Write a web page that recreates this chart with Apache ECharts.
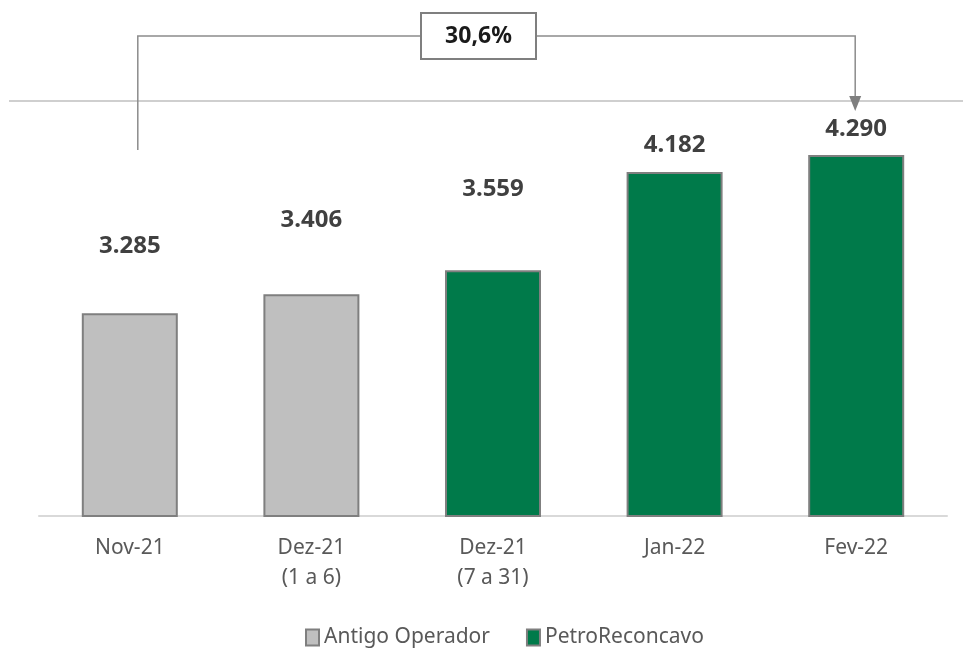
<!DOCTYPE html>
<html>
<head>
<meta charset="utf-8">
<script src="https://cdn.jsdelivr.net/npm/echarts@6/dist/echarts.min.js"></script>
<style>
  html, body { margin: 0; padding: 0; background: #fff; }
  #main { width: 963px; height: 651px; }
</style>
</head>
<body>
<div id="main"></div>
<script>
// categorias e valores
const categories = ["Nov-21", "Dez-21\n(1 a 6)", "Dez-21\n(7 a 31)", "Jan-22", "Fev-22"];
const antigoOperador = [3285, 3406, "-", "-", "-"];
const petroReconcavo = ["-", "-", 3559, 4182, 4290];
// distancia dos rótulos acima das barras (estilo)
const labelGap = [55, 62, 69, 15, 14];

const FONT = "Noto Sans";
const fmt = (v) => String(v).replace(/\B(?=(\d{3})+(?!\d))/g, ".");

const chart = echarts.init(document.getElementById("main"));

function toData(arr) {
  return arr.map((v, i) => {
    if (v === "-") return "-";
    return { value: v, label: { distance: labelGap[i] } };
  });
}

const labelStyle = {
  show: true,
  position: "top",
  fontFamily: FONT,
  fontSize: 24,
  fontWeight: "bold",
  color: "#404040",
  formatter: (p) => fmt(p.value),
};

const option = {
  backgroundColor: "#fff",
  animation: false,
  grid: { left: 39, right: 16, top: 106, bottom: 135 },
  legend: {
    top: 622,
    left: 300,
    itemWidth: 13,
    itemHeight: 16,
    itemGap: 36,
    icon: "rect",
    textStyle: { fontFamily: FONT, fontSize: 21, color: "#595959" },
    data: ["Antigo Operador", "PetroReconcavo"],
  },
  xAxis: {
    type: "category",
    data: categories,
    axisTick: { show: false },
    axisLine: { lineStyle: { color: "#d9d9d9", width: 2 } },
    axisLabel: {
      interval: 0,
      margin: 17,
      fontFamily: FONT,
      fontSize: 21,
      lineHeight: 30,
      color: "#595959",
    },
  },
  yAxis: {
    type: "value",
    min: 2000,
    max: 4600,
    show: false,
    splitLine: { show: false },
  },
  series: [
    {
      name: "Antigo Operador",
      type: "bar",
      barWidth: 96,
      barGap: "-100%",
      itemStyle: { color: "#bfbfbf", borderColor: "#7f7f7f", borderWidth: 2 },
      label: labelStyle,
      data: toData(antigoOperador),
    },
    {
      name: "PetroReconcavo",
      type: "bar",
      barWidth: 96,
      barGap: "-100%",
      itemStyle: { color: "#007a4a", borderColor: "#7f7f7f", borderWidth: 2 },
      label: labelStyle,
      data: toData(petroReconcavo),
    },
  ],
};

chart.setOption(option);

// anotação de crescimento (primeira -> última barra)
const first = antigoOperador[0];
const last = petroReconcavo[petroReconcavo.length - 1];
const growth = ((last / first - 1) * 100).toFixed(1).replace(".", ",") + "%";
const x0 = chart.convertToPixel({ xAxisIndex: 0 }, categories[0]) + 8;
const x1 = chart.convertToPixel({ xAxisIndex: 0 }, categories[categories.length - 1]) - 1;
const lineY = 36;
const boxX = 421, boxW = 115, boxY = 13, boxH = 46;
const lineColor = "#8c8c8c";

chart.setOption({
  graphic: [
    {
      type: "line",
      shape: { x1: 9, y1: 101, x2: 963, y2: 101 },
      style: { stroke: "#bfbfbf", lineWidth: 1.5 },
    },
    {
      type: "polyline",
      shape: { points: [[x0, 150], [x0, lineY], [boxX, lineY]] },
      style: { stroke: lineColor, lineWidth: 1.5, fill: null },
    },
    {
      type: "polyline",
      shape: { points: [[boxX + boxW, lineY], [x1, lineY], [x1, 98]] },
      style: { stroke: lineColor, lineWidth: 1.5, fill: null },
    },
    {
      type: "polygon",
      shape: { points: [[x1 - 6, 96], [x1 + 6, 96], [x1, 111]] },
      style: { fill: "#7f7f7f" },
    },
    {
      type: "rect",
      shape: { x: boxX, y: boxY, width: boxW, height: boxH },
      style: { fill: "#fff", stroke: "#7f7f7f", lineWidth: 2 },
    },
    {
      type: "text",
      x: boxX + boxW / 2,
      y: boxY + boxH / 2,
      style: {
        text: growth,
        fontFamily: FONT,
        fontSize: 23,
        fontWeight: "bold",
        fill: "#1a1a1a",
        align: "center",
        verticalAlign: "middle",
      },
    },
  ],
});

window.addEventListener("resize", () => chart.resize());
</script>
</body>
</html>
